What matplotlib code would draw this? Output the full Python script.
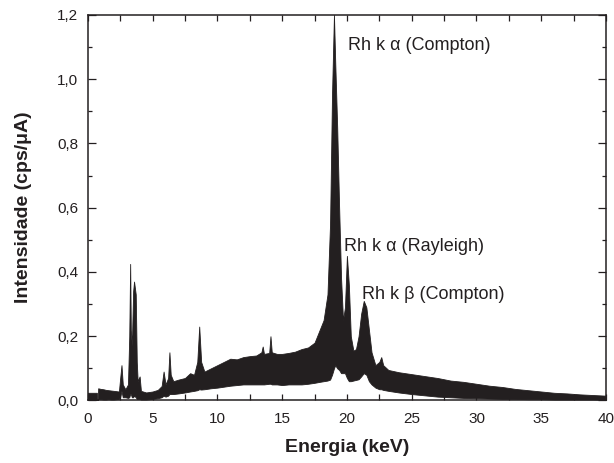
"""
XRF spectrum: Intensidade vs Energia, drawn as a filled band.
"""
import numpy as np
import matplotlib
matplotlib.use("Agg")
import matplotlib.pyplot as plt
from matplotlib.ticker import MultipleLocator, FuncFormatter

plt.rcParams['font.family'] = ['Liberation Sans', 'DejaVu Sans']

## DATA -----------------------------------------------------------------
energy = [0.0, 0.7, 0.72, 0.78,
          0.8, 1.0, 1.2, 1.4, 1.6, 1.8, 2.0, 2.2, 2.4,
          2.5, 2.6, 2.7, 2.9, 3.1, 3.2, 3.27, 3.32, 3.4, 3.5, 3.57, 3.7, 3.78, 3.85, 4.0, 4.1,
          4.5, 5.0, 5.4, 5.7, 5.85, 6.0, 6.2, 6.3, 6.4, 6.6, 7.0, 7.5, 7.9, 8.2, 8.45, 8.6, 8.75,
          9.0, 9.5, 10.0, 10.5, 11.0, 11.5, 12.0, 12.5, 13.0, 13.4, 13.5, 13.6, 14.0, 14.1, 14.2,
          14.6, 15.0, 15.5, 16.0, 16.5, 17.0, 17.5, 17.9, 18.2, 18.5, 18.7, 18.85, 19.0, 19.1,
          19.25, 19.4, 19.55, 19.7, 19.85, 20.0, 20.15, 20.3, 20.5, 20.7, 20.9, 21.1, 21.3, 21.5,
          21.7, 21.9, 22.2, 22.5, 22.65, 22.8, 23.2, 24.0, 25.0, 26.0, 27.0, 28.0, 29.0, 30.0,
          31.0, 32.0, 33.0, 34.0, 35.0, 36.0, 37.0, 38.0, 39.0, 40.0]
upper = [0.024, 0.024, 0.0, 0.0,
         0.038, 0.036, 0.035, 0.033, 0.032, 0.031, 0.030, 0.029, 0.028,
         0.070, 0.110, 0.050, 0.035, 0.050, 0.200, 0.425, 0.220, 0.170, 0.340, 0.370, 0.330, 0.120, 0.060, 0.075, 0.030,
         0.025, 0.028, 0.033, 0.045, 0.090, 0.050, 0.070, 0.150, 0.080, 0.060, 0.065, 0.070, 0.085, 0.080, 0.120, 0.230, 0.120,
         0.090, 0.100, 0.110, 0.120, 0.130, 0.128, 0.135, 0.138, 0.140, 0.150, 0.168, 0.145, 0.148, 0.200, 0.150,
         0.145, 0.145, 0.148, 0.152, 0.160, 0.165, 0.180, 0.220, 0.250, 0.330, 0.550, 0.950, 1.200, 1.050,
         0.850, 0.600, 0.380, 0.250, 0.290, 0.450, 0.360, 0.200, 0.155, 0.160, 0.200, 0.270, 0.310, 0.290,
         0.220, 0.150, 0.110, 0.120, 0.135, 0.110, 0.095, 0.088, 0.082, 0.076, 0.070, 0.062, 0.058, 0.052,
         0.046, 0.042, 0.036, 0.032, 0.028, 0.024, 0.022, 0.019, 0.017, 0.015]
lower = [0.0, 0.0, 0.0, 0.0,
         0.004, 0.004, 0.003, 0.003, 0.004, 0.003, 0.003, 0.004, 0.005,
         0.010, 0.030, 0.010, 0.010, 0.008, 0.010, 0.020, 0.020, 0.010, 0.010, 0.015, 0.010, 0.005, 0.005, 0.005, 0.003,
         0.003, 0.005, 0.007, 0.010, 0.015, 0.012, 0.015, 0.020, 0.020, 0.020, 0.022, 0.025, 0.028, 0.030, 0.032, 0.035, 0.034,
         0.035, 0.038, 0.040, 0.043, 0.046, 0.048, 0.050, 0.050, 0.050, 0.050, 0.050, 0.050, 0.052, 0.052, 0.050,
         0.050, 0.048, 0.050, 0.050, 0.050, 0.052, 0.055, 0.058, 0.060, 0.062, 0.065, 0.080, 0.100, 0.110,
         0.100, 0.095, 0.085, 0.085, 0.085, 0.070, 0.060, 0.060, 0.062, 0.064, 0.066, 0.075, 0.085, 0.080,
         0.060, 0.050, 0.040, 0.035, 0.035, 0.033, 0.030, 0.025, 0.020, 0.016, 0.012, 0.010, 0.008, 0.007,
         0.006, 0.005, 0.005, 0.004, 0.004, 0.003, 0.003, 0.003, 0.003, 0.002]

peak_labels = [u"Rh k \u03b1 (Compton)", u"Rh k \u03b1 (Rayleigh)", u"Rh k \u03b2 (Compton)"]
label_pos = [(20.1, 1.105), (19.8, 0.48), (21.2, 0.33)]

## FIGURE ----------------------------------------------------------------
fig = plt.figure(figsize=(6.14, 4.63), dpi=100)
ax = fig.add_axes([0.143, 0.135, 0.844, 0.833])

band_color = '#231f20'
ax.fill_between(energy, lower, upper, color=band_color, linewidth=0.6, edgecolor=band_color)

for txt, (xx, yy) in zip(peak_labels, label_pos):
    ax.text(xx, yy, txt, fontsize=13, va='center', ha='left', color='#231f20')

ax.set_xlim(0, 40)
ax.set_ylim(0, 1.2)
ax.xaxis.set_major_locator(MultipleLocator(5))
ax.xaxis.set_minor_locator(MultipleLocator(2.5))
ax.yaxis.set_major_locator(MultipleLocator(0.2))
ax.yaxis.set_minor_locator(MultipleLocator(0.1))
ax.yaxis.set_major_formatter(FuncFormatter(lambda v, p: ("%.1f" % v).replace('.', ',')))
ax.xaxis.set_major_formatter(FuncFormatter(lambda v, p: "%d" % v))

ax.tick_params(axis='both', which='both', direction='in', top=True, right=True,
               labelsize=11, colors='#231f20', width=0.9)
ax.tick_params(axis='x', which='both', length=4, pad=8)
ax.tick_params(axis='y', which='major', length=6, pad=7)
ax.tick_params(axis='y', which='minor', length=3)

for sp in ax.spines.values():
    sp.set_linewidth(1.1)
    sp.set_color('#231f20')

ax.set_xlabel('Energia (keV)', fontsize=14, fontweight='bold', labelpad=10, color='#231f20')
ax.set_ylabel(u'Intensidade (cps/\u03bcA)', fontsize=14, fontweight='bold', labelpad=18, color='#231f20')

fig.savefig('out.png', dpi=100)
